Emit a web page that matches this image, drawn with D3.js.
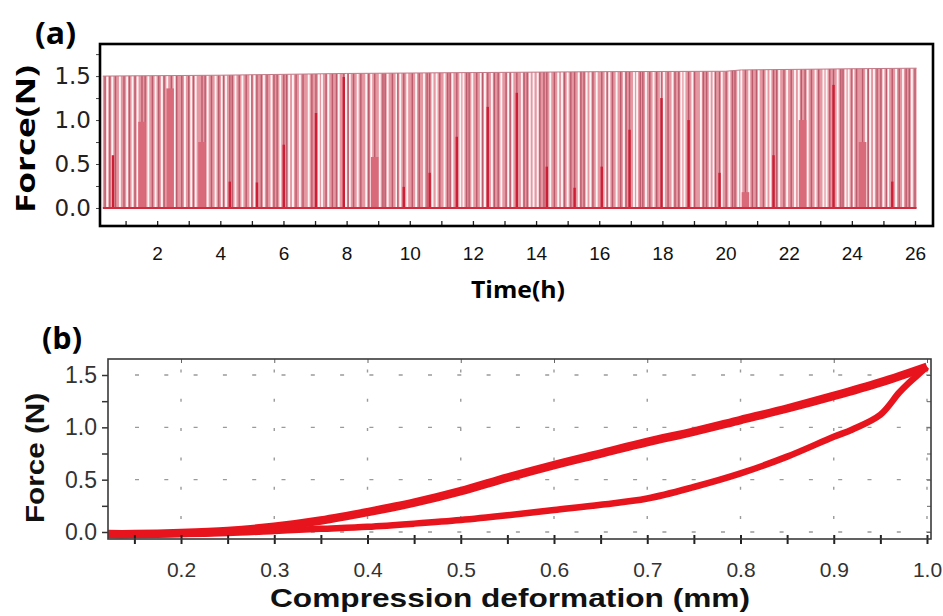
<!DOCTYPE html>
<html><head><meta charset="utf-8">
<script src="https://cdn.jsdelivr.net/npm/d3@7"></script>
<style>html,body{margin:0;padding:0;background:#fff;} svg{display:block}</style>
</head><body><svg id="chart" width="943" height="616"></svg>
<script>
// ================= Panel (a) data =================
const timeTicks = [1,2,3,4,5,6,7,8,9,10,11,12,13,14,15,16,17,18,19,20,21,22,23,24,25,26];
const timeLabels = [2,4,6,8,10,12,14,16,18,20,22,24,26];
const forceTicksA = [0,0.25,0.5,0.75,1.0,1.25,1.5,1.75];
const forceLabelsA = [0.0,0.5,1.0,1.5];
// top of the loading cycles (N) along time (h)
const envelopeTimes  = [0.28, 4, 8, 12, 16, 20, 20.5, 24.5, 26.05];
const envelopeForces = [1.50, 1.51, 1.53, 1.54, 1.55, 1.555, 1.57, 1.585, 1.59];
// pale gaps between cycles (h)
const gapTimes = [0.42,0.58,0.82,1.05,1.22,1.38,1.72,1.95,
 2.15,2.32,2.55,2.88,3.08,3.22,3.6,3.85,
 4.05,4.18,4.48,4.7,4.95,5.08,5.38,5.62,5.9,
 6.18,6.3,6.52,6.8,7.12,7.22,7.42,7.75,7.98,
 8.1,8.35,8.62,8.78,9.05,9.3,9.58,9.7,9.92,
 10.2,10.45,10.72,10.85,11.1,11.35,11.6,11.7,11.98,
 12.25,12.38,12.6,12.9,13.12,13.25,13.55,13.8,13.92,
 14.05,14.45,14.7,14.82,15.0,15.35,15.6,15.72,15.92,
 16.2,16.32,16.55,16.78,17.1,17.2,17.48,17.72,17.95,
 18.05,18.32,18.6,18.7,18.95,19.22,19.5,19.62,19.88,
 20.12,20.4,20.5,20.75,21.05,21.3,21.42,21.7,21.95,
 22.2,22.32,22.6,22.85,23.1,23.2,23.55,23.8,23.9,
 24.05,24.45,24.58,24.7,25.0,25.15,25.4,25.62,25.9];
// full-height loading cycles (h)
const cycleTimes = [0.35,0.5,0.68,0.95,1.12,1.3,1.52,1.62,1.85,
 2.05,2.22,2.45,2.62,2.78,3.0,3.15,3.42,3.52,3.72,3.95,
 4.1,4.3,4.38,4.6,4.82,5.0,5.16,5.3,5.48,5.7,5.8,
 6.01,6.1,6.4,6.62,6.9,7.03,7.35,7.55,7.68,7.91,
 8.05,8.22,8.45,8.7,8.89,9.15,9.22,9.45,9.62,9.81,
 10.08,10.3,10.55,10.63,10.95,11.2,11.28,11.49,11.8,11.88,
 12.12,12.3,12.47,12.68,12.8,13.05,13.18,13.39,13.62,13.72,
 14.12,14.25,14.34,14.58,14.9,15.1,15.22,15.42,15.52,15.8,
 16.08,16.25,16.42,16.68,16.85,16.96,17.3,17.38,17.6,17.82,17.97,
 18.18,18.4,18.52,18.83,19.02,19.3,19.4,19.68,19.81,
 20.02,20.22,20.3,20.63,20.85,20.98,21.2,21.52,21.62,21.85,
 22.08,22.4,22.52,22.72,22.95,23.3,23.42,23.65,23.72,
 24.0,24.15,24.34,24.52,24.8,24.92,25.1,25.28,25.5,25.72,25.82,26.0];
// partial (incomplete) peaks
const narrowPeakTimes  = [0.60,4.30,5.16,6.01,7.03,7.91,9.81,10.63,11.49,12.47,13.39,14.34,15.22,16.08,16.96,17.97,18.83,19.81,21.52,23.42,25.28];
const narrowPeakForces = [0.60,0.30,0.29,0.72,1.08,1.49,0.24,0.40,0.81,1.15,1.31,0.47,0.23,0.47,0.89,1.25,1.00,0.40,0.60,1.40,0.30];
const broadPeakTimes  = [1.52,2.41,3.42,8.89,20.63,22.44,24.34];
const broadPeakForces = [0.98,1.36,0.75,0.58,0.18,1.00,0.75];

// ================= Panel (b) data =================
const deformTicks = [0.15,0.2,0.25,0.3,0.35,0.4,0.45,0.5,0.55,0.6,0.65,0.7,0.75,0.8,0.85,0.9,0.95,1.0];
const deformLabels = [0.2,0.3,0.4,0.5,0.6,0.7,0.8,0.9,1.0];
const forceTicksB = [0,0.25,0.5,0.75,1.0,1.25,1.5];
const forceLabelsB = [0.0,0.5,1.0,1.5];
const loadDeform = [0.12,0.15,0.2,0.25,0.3,0.35,0.4,0.45,0.5,0.55,0.6,0.65,0.7,0.75,0.8,0.85,0.9,0.95,1.0];
const loadForce  = [-0.02,-0.02,-0.01,0.01,0.05,0.11,0.19,0.28,0.39,0.52,0.64,0.75,0.86,0.96,1.07,1.18,1.30,1.43,1.58];
const unloadDeform = [1.0,0.99,0.98,0.97,0.95,0.92,0.9,0.85,0.8,0.75,0.7,0.65,0.6,0.55,0.5,0.45,0.4,0.35,0.3,0.25,0.2,0.15,0.12];
const unloadForce  = [1.58,1.50,1.42,1.33,1.12,0.98,0.91,0.72,0.56,0.43,0.32,0.26,0.21,0.16,0.115,0.08,0.05,0.03,0.01,-0.01,-0.02,-0.02,-0.02];

const svg = d3.select("#chart");
svg.append("rect").attr("width",943).attr("height",616).attr("fill","#fff");

// ================= Panel (a) =================
const A = {l:100, r:933, t:44, b:226};
const xA = d3.scaleLinear().domain([0.19, 26.57]).range([A.l, A.r]);
const yA = d3.scaleLinear().domain([-0.205, 1.865]).range([A.b, A.t]);
const env = d3.scaleLinear().domain(envelopeTimes).range(envelopeForces);
const gA = svg.append("g");

gA.append("path")
  .datum(envelopeTimes)
  .attr("d", d3.area().x(d=>xA(d)).y0(yA(0)).y1(d=>yA(env(d))))
  .attr("fill","#e597a2");

gA.selectAll("line.gap").data(gapTimes).join("line").attr("class","gap")
  .attr("x1",d=>xA(d)).attr("x2",d=>xA(d))
  .attr("y1",yA(0)).attr("y2",d=>yA(env(d)))
  .attr("stroke","#fdf3f4").attr("stroke-width",1.9);

gA.selectAll("line.cyc").data(cycleTimes).join("line").attr("class","cyc")
  .attr("x1",d=>xA(d)).attr("x2",d=>xA(d))
  .attr("y1",yA(0)).attr("y2",d=>yA(env(d)))
  .attr("stroke","#b04c5e").attr("stroke-opacity",0.8).attr("stroke-width",1.4);

gA.append("path").datum(envelopeTimes)
  .attr("d", d3.line().x(d=>xA(d)).y(d=>yA(env(d))))
  .attr("fill","none").attr("stroke","#c27a88").attr("stroke-width",1);

gA.selectAll("rect.bp").data(broadPeakTimes).join("rect").attr("class","bp")
  .attr("x",d=>xA(d-0.12)).attr("width",d=>xA(d+0.12)-xA(d-0.12))
  .attr("y",(d,i)=>yA(broadPeakForces[i])).attr("height",(d,i)=>yA(0)-yA(broadPeakForces[i]))
  .attr("fill","#d86a7a");

gA.selectAll("line.np").data(narrowPeakTimes).join("line").attr("class","np")
  .attr("x1",d=>xA(d)).attr("x2",d=>xA(d))
  .attr("y1",yA(0)).attr("y2",(d,i)=>yA(narrowPeakForces[i]))
  .attr("stroke","#cc1f35").attr("stroke-width",2.4);

gA.append("line").attr("x1",xA(envelopeTimes[0])).attr("x2",xA(envelopeTimes[envelopeTimes.length-1]))
  .attr("y1",yA(0)).attr("y2",yA(0)).attr("stroke","#d02c3e").attr("stroke-width",2.2);

// axes (a)
const axLA = gA.append("g").attr("transform",`translate(${A.l},0)`)
  .call(d3.axisLeft(yA).tickValues(forceTicksA).tickSize(4).tickPadding(5)
    .tickFormat(d=>forceLabelsA.includes(d)?d3.format(".1f")(d):""));
axLA.select(".domain").remove();
axLA.selectAll("line").attr("stroke","#444");
axLA.selectAll("text").attr("font-family","'DejaVu Sans'").attr("font-size",23).attr("fill","#222");

const axBA = gA.append("g").attr("transform",`translate(0,${A.b})`)
  .call(d3.axisBottom(xA).tickValues(timeTicks).tickSize(-5).tickPadding(21)
    .tickFormat(d=>timeLabels.includes(d)?d:""));
axBA.select(".domain").remove();
axBA.selectAll("line").attr("stroke","#222").attr("stroke-width",1.3);
axBA.selectAll("text").attr("font-family","'Liberation Sans'").attr("font-size",19).attr("fill","#111");

gA.append("rect").attr("x",A.l).attr("y",A.t).attr("width",A.r-A.l).attr("height",A.b-A.t)
  .attr("fill","none").attr("stroke","#000").attr("stroke-width",2.6);

svg.append("text").text("(a)").attr("x",35).attr("y",44)
  .attr("font-family","'Open Sans'").attr("font-weight","bold").attr("font-size",30)
  .attr("textLength",41).attr("lengthAdjust","spacingAndGlyphs").attr("fill","#000");
svg.append("text").text("Force(N)")
  .attr("transform","translate(35,139) rotate(-90)").attr("text-anchor","middle")
  .attr("font-family","'Open Sans'").attr("font-weight","bold").attr("font-size",27)
  .attr("textLength",148).attr("lengthAdjust","spacingAndGlyphs").attr("fill","#000");
svg.append("text").text("Time(h)").attr("x",518).attr("y",298).attr("text-anchor","middle")
  .attr("font-family","'Open Sans'").attr("font-weight","bold").attr("font-size",23)
  .attr("textLength",94).attr("lengthAdjust","spacingAndGlyphs").attr("fill","#000");

// ================= Panel (b) =================
const B = {l:108, r:931, t:359, b:539};
const xB = d3.scaleLinear().domain([0.1217, 1.0043]).range([B.l, B.r]);
const yB = d3.scaleLinear().domain([-0.0669, 1.653]).range([B.b, B.t]);
const gB = svg.append("g");

gB.append("defs").append("clipPath").attr("id","clipB")
  .append("rect").attr("x",B.l).attr("y",B.t-4).attr("width",B.r-B.l+3).attr("height",B.b-B.t+4);

// dotted grid
gB.selectAll("line.hg").data(forceLabelsB).join("line").attr("class","hg")
  .attr("x1",B.l+2).attr("x2",B.r).attr("y1",d=>yB(d)).attr("y2",d=>yB(d))
  .attr("stroke","#9a9a9a").attr("stroke-width",1.4).attr("stroke-dasharray","4,25.3")
  .attr("stroke-dashoffset",-25);
gB.selectAll("line.vg").data(deformLabels).join("line").attr("class","vg")
  .attr("x1",d=>xB(d)).attr("x2",d=>xB(d)).attr("y1",B.b).attr("y2",B.t)
  .attr("stroke","#9a9a9a").attr("stroke-width",1.4).attr("stroke-dasharray","3,26.3")
  .attr("stroke-dashoffset",-20);

const lineB = d3.line().curve(d3.curveCatmullRom.alpha(0.5));
const curves = gB.append("g").attr("clip-path","url(#clipB)");
curves.append("path")
  .attr("d", lineB(unloadDeform.map((d,i)=>[xB(d), yB(unloadForce[i])])))
  .attr("fill","none").attr("stroke","#e8141d").attr("stroke-width",6.5).attr("stroke-linejoin","round");
curves.append("path")
  .attr("d", lineB(loadDeform.map((d,i)=>[xB(d), yB(loadForce[i])])))
  .attr("fill","none").attr("stroke","#e8141d").attr("stroke-width",8.5).attr("stroke-linejoin","round");

// axes (b)
const axLB = gB.append("g").attr("transform",`translate(${B.l},0)`)
  .call(d3.axisLeft(yB).tickValues(forceTicksB).tickSize(6).tickPadding(5)
    .tickFormat(d=>forceLabelsB.includes(d)?d3.format(".1f")(d):""));
axLB.select(".domain").remove();
axLB.selectAll("line").attr("stroke","#333").attr("stroke-width",1.5);
axLB.selectAll("text").attr("font-family","'Liberation Sans'").attr("font-size",23).attr("fill","#333");

const axBB = gB.append("g").attr("transform",`translate(0,${B.b})`)
  .call(d3.axisBottom(xB).tickValues(deformTicks).tickSize(5).tickPadding(18)
    .tickFormat(d=>deformLabels.includes(d)?d3.format(".1f")(d):""));
axBB.select(".domain").remove();
axBB.selectAll("line").attr("y1",-4).attr("stroke","#222").attr("stroke-width",2);
axBB.selectAll("text").attr("font-family","'Liberation Sans'").attr("font-size",21).attr("fill","#333");

// mirror ticks top/right
const axTB = gB.append("g").attr("transform",`translate(0,${B.t})`)
  .call(d3.axisTop(xB).tickValues(deformLabels).tickSize(-4).tickFormat(""));
axTB.select(".domain").remove();
axTB.selectAll("line").attr("stroke","#666");
const axRB = gB.append("g").attr("transform",`translate(${B.r},0)`)
  .call(d3.axisRight(yB).tickValues(forceTicksB).tickSize(-4).tickFormat(""));
axRB.select(".domain").remove();
axRB.selectAll("line").attr("stroke","#666");

gB.append("rect").attr("x",B.l).attr("y",B.t).attr("width",B.r-B.l).attr("height",B.b-B.t)
  .attr("fill","none").attr("stroke","#3a3a3a").attr("stroke-width",1.6);

svg.append("text").text("(b)").attr("x",42).attr("y",349)
  .attr("font-family","'Open Sans'").attr("font-weight","bold").attr("font-size",30)
  .attr("textLength",40).attr("lengthAdjust","spacingAndGlyphs").attr("fill","#000");
svg.append("text").text("Force (N)")
  .attr("transform","translate(44,458) rotate(-90)").attr("text-anchor","middle")
  .attr("font-family","'Liberation Sans'").attr("font-weight","bold").attr("font-size",25)
  .attr("textLength",130).attr("lengthAdjust","spacingAndGlyphs").attr("fill","#111");
svg.append("text").text("Compression deformation (mm)").attr("x",510).attr("y",607).attr("text-anchor","middle")
  .attr("font-family","'Liberation Sans'").attr("font-weight","bold").attr("font-size",26)
  .attr("textLength",480).attr("lengthAdjust","spacingAndGlyphs").attr("fill","#111");
</script>
</body></html>
